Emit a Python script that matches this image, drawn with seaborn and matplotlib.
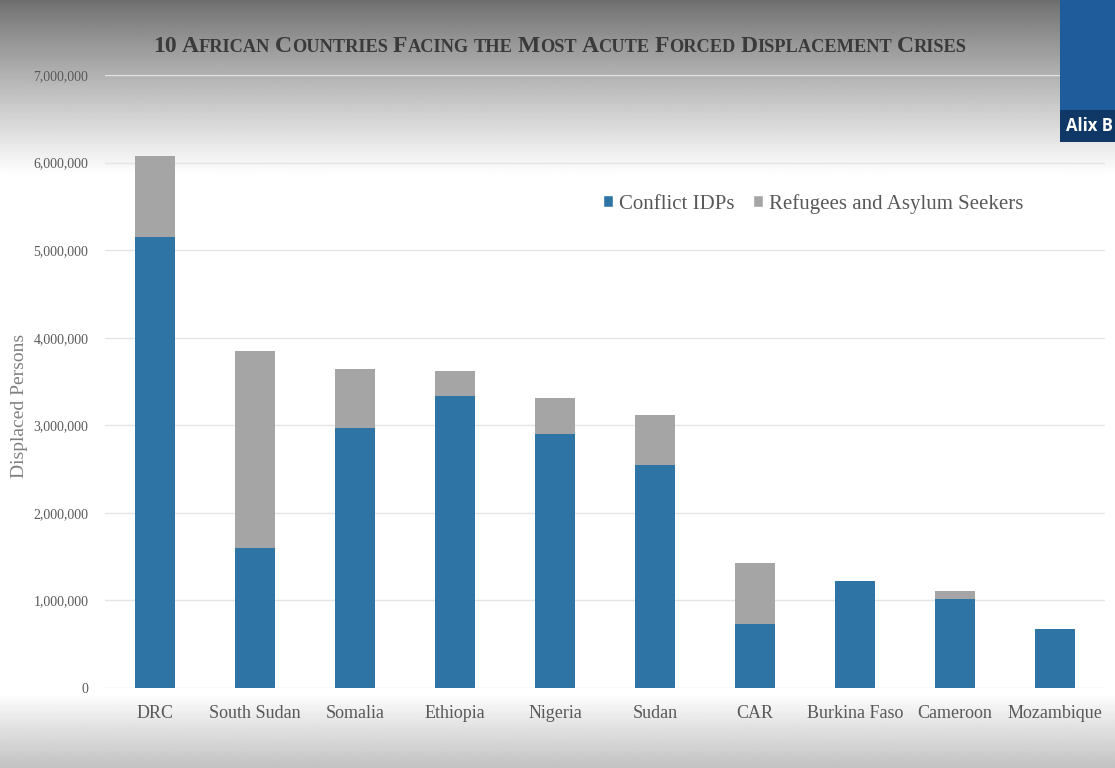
import numpy as np
import pandas as pd
import matplotlib
matplotlib.use("Agg")
import matplotlib.pyplot as plt
import seaborn as sns
from matplotlib.patches import Patch, Rectangle
from matplotlib.ticker import FuncFormatter

# ---- data -------------------------------------------------------------
countries = ["DRC", "South Sudan", "Somalia", "Ethiopia", "Nigeria",
             "Sudan", "CAR", "Burkina Faso", "Cameroon", "Mozambique"]
conflict_idps = [5150000, 1600000, 2970000, 3340000, 2900000,
                 2550000, 730000, 1220000, 1020000, 670000]
refugees_asylum = [930000, 2250000, 670000, 280000, 410000,
                   570000, 700000, 0, 90000, 0]
y_ticks = [0, 1000000, 2000000, 3000000, 4000000, 5000000, 6000000, 7000000]
series_labels = ["Conflict IDPs", "Refugees and Asylum Seekers"]
title_text = "10 African Countries Facing the Most Acute Forced Displacement Crises"
y_label = "Displaced Persons"

BLUE = "#2e75a6"
GRAY = "#a5a5a5"
TEXT = "#595959"

df = pd.DataFrame({"country": countries,
                   "idps": conflict_idps,
                   "refugees": refugees_asylum})
df["total"] = df["idps"] + df["refugees"]

sns.set_theme(style="white")
plt.rcParams["font.family"] = ["Liberation Serif", "DejaVu Serif"]

W, H = 1115, 768
fig = plt.figure(figsize=(W / 100, H / 100), dpi=100)

# ---- soft grey backdrop, darker at top and bottom ----------------------
bg = fig.add_axes([0, 0, 1, 1], zorder=-10)
rows = np.arange(H, dtype=float)
shade = np.ones(H)
top = rows < 175
shade[top] = 0.43 + 0.57 * (rows[top] / 175) ** 0.9
bot = rows > 695
shade[bot] = 1 - 0.24 * ((rows[bot] - 695) / (H - 695)) ** 0.9
img = np.repeat(shade[:, None], 4, axis=1)
bg.imshow(img, cmap="gray", vmin=0, vmax=1, aspect="auto",
          extent=[0, 1, 0, 1], origin="upper", interpolation="bilinear")
bg.axis("off")

# ---- main axes ----------------------------------------------------------
ax = fig.add_axes([105 / W, 1 - 688 / H, 1000 / W, 613 / H])
ax.patch.set_alpha(0)

sns.barplot(data=df, x="country", y="total", color=GRAY, width=0.4,
            saturation=1, linewidth=0, ax=ax, zorder=2)
sns.barplot(data=df, x="country", y="idps", color=BLUE, width=0.4,
            saturation=1, linewidth=0, ax=ax, zorder=3)

ax.set_xlim(-0.5, len(countries) - 0.5)
ax.set_ylim(0, 7000000)
ax.set_yticks(y_ticks)
ax.yaxis.set_major_formatter(FuncFormatter(lambda v, p: f"{int(v):,}"))
ax.grid(axis="y", color="#e4e4e4", linewidth=1.0, zorder=0)
ax.grid(axis="x", visible=False)
ax.set_axisbelow(True)
for s in ax.spines.values():
    s.set_visible(False)
ax.tick_params(axis="y", length=0, pad=12, labelsize=10, labelcolor=TEXT)
ax.tick_params(axis="x", length=0, pad=12, labelsize=13, labelcolor=TEXT)
ax.set_xlabel("")
ax.set_ylabel(y_label, fontsize=14, color="#7f7f7f")
ax.yaxis.set_label_coords(-0.077, 0.46)

handles = [Patch(facecolor=BLUE, label=series_labels[0]),
           Patch(facecolor=GRAY, label=series_labels[1])]
ax.legend(handles=handles, loc="center", bbox_to_anchor=(0.708, 0.79),
          ncol=2, frameon=False, fontsize=15, handlelength=0.5,
          handleheight=0.5, handletextpad=0.25, columnspacing=0.9,
          labelcolor=TEXT)

# ---- small-caps title built from runs of large and small capitals ------
BIG, SMALL = 17, 13.2
runs = []  # (text, size, space_before)
for wi, word in enumerate(title_text.split(" ")):
    cur, cur_big = "", None
    first = True
    for ch in word:
        is_big = ch.isupper() or ch.isdigit()
        if cur_big is None or is_big == cur_big:
            cur += ch.upper()
            cur_big = is_big
        else:
            runs.append((cur, BIG if cur_big else SMALL, wi > 0 and first))
            first = False
            cur, cur_big = ch.upper(), is_big
    runs.append((cur, BIG if cur_big else SMALL, wi > 0 and first))

renderer = fig.canvas.get_renderer()
space_px = 5.0
baseline = 1 - 52 / H
texts, widths = [], []
for txt, size, sp in runs:
    t = fig.text(0, baseline, txt, fontsize=size, fontweight="bold",
                 color="#3a3a3a", ha="left", va="baseline")
    texts.append(t)
    widths.append(t.get_window_extent(renderer).width)
total = sum(widths) + space_px * sum(1 for r in runs if r[2])
x = 560 - total / 2
for t, w, (txt, size, sp) in zip(texts, widths, runs):
    if sp:
        x += space_px
    t.set_x(x / W)
    x += w

# ---- presenter name tag, top right -------------------------------------
fig.add_artist(Rectangle((1060 / W, 1 - 110 / H), 55 / W, 110 / H,
                         transform=fig.transFigure, facecolor="#1e5c9c",
                         edgecolor="none", zorder=5))
fig.add_artist(Rectangle((1060 / W, 1 - 142 / H), 55 / W, 32 / H,
                         transform=fig.transFigure, facecolor="#0f3866",
                         edgecolor="none", zorder=5))
fig.text(1066 / W, 1 - 126 / H, "Alix B", fontsize=12, fontweight="bold",
         color="white", family=["Open Sans", "DejaVu Sans"],
         ha="left", va="center", zorder=6)

fig.savefig("out.png", dpi=100)
